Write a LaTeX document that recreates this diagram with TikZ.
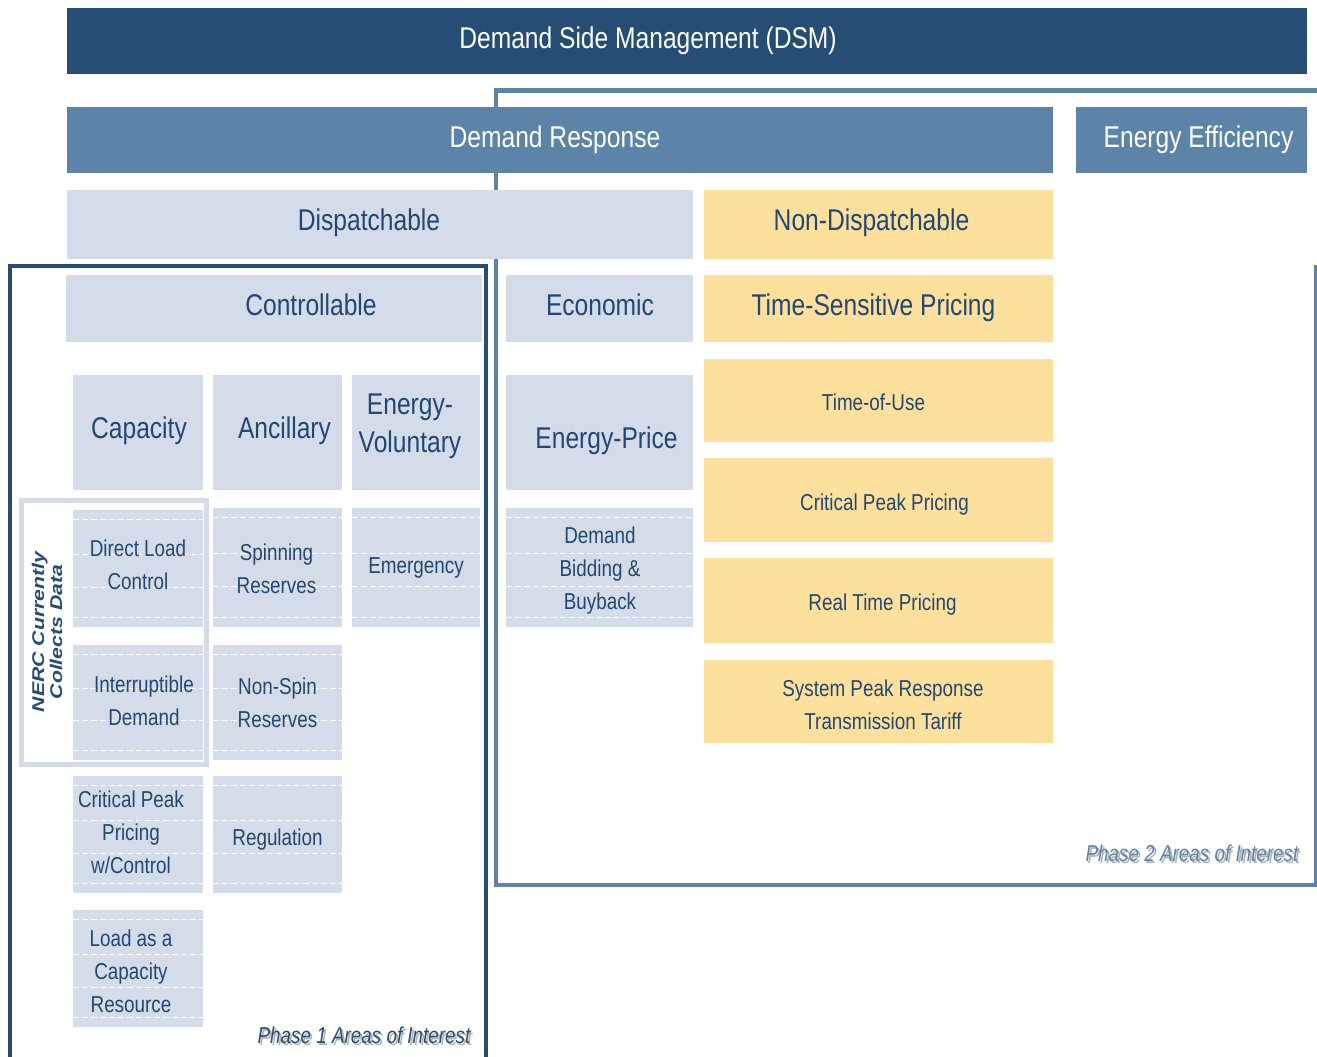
\documentclass[tikz,border=0pt]{standalone}
\usepackage{fontspec}
\setmainfont{Liberation Sans}[FakeStretch=0.82]
\newfontfamily\nercfont{Liberation Sans}[FakeStretch=1.25]
\usepackage{xcolor}
\usetikzlibrary{calc}

\definecolor{dsmblue}{RGB}{38,77,115}
\definecolor{midblue}{RGB}{92,132,168}
\definecolor{paleblue}{RGB}{211,220,232}
\definecolor{paleyellow}{RGB}{252,224,155}
\definecolor{textblue}{RGB}{33,72,116}

\begin{document}
\begin{tikzpicture}[x=1pt, y=-1pt,
    box/.style={inner sep=0pt, outer sep=0pt},
    sz/.style 2 args={minimum width=#1pt, minimum height=#2pt},
    darkbar/.style={box, fill=dsmblue},
    midbar/.style={box, fill=midblue},
    bluebox/.style={box, fill=paleblue},
    yellowbox/.style={box, fill=paleyellow},
    dashlines/.style={path picture={
        \foreach \f in {0.08,0.38,0.66,0.92}
            \draw[white, line width=1pt, dash pattern=on 6pt off 3pt]
                ($(path picture bounding box.north west)!\f!(path picture bounding box.south west)$) --
                ($(path picture bounding box.north east)!\f!(path picture bounding box.south east)$);
    }},
    subbox/.style={bluebox, dashlines},
    lbl/.style={align=center, text=textblue, font=\fontsize{30}{38}\selectfont},
    whitelbl/.style={lbl, text=white},
    small/.style={lbl, font=\fontsize{23}{33}\selectfont},
    frame/.style={line width=4.5pt},
    phase/.style={font=\fontsize{23}{23}\selectfont\itshape}
]
    \useasboundingbox (0,0) rectangle (1317,1057);

    % Phase frames
    \draw[frame, midblue] (1316,265) -- (1316,885) -- (496,885) -- (496,90.5) -- (1320,90.5);
    \draw[frame, dsmblue] (10,1062) -- (10,266) -- (486,266) -- (486,1062);

    % Top bars
    \node[darkbar, sz={1240}{66}] (dsm) at (687,41) {};
    \node[midbar, sz={986}{66}] (dr) at (560,140) {};
    \node[midbar, sz={231}{66}] (ee) at (1191.5,140) {};
    \node[whitelbl] (dsmtxt) at (648,41) {Demand Side Management (DSM)};
    \node[whitelbl] (drtxt) at (555,140) {Demand Response};
    \node[whitelbl] (eetxt) at (1198.5,140) {Energy Efficiency};

    % Second and third rows
    \node[bluebox, sz={626}{69}] (disp) at (380,224.5) {};
    \node[yellowbox, sz={349}{69}] (nondisp) at (878.5,224.5) {};
    \node[bluebox, sz={416}{67}] (ctrl) at (274,308.5) {};
    \node[bluebox, sz={187}{67}] (econ) at (599.5,308.5) {};
    \node[yellowbox, sz={349}{67}] (tsp) at (878.5,308.5) {};
    \node[lbl] (disptxt) at (369,222.5) {Dispatchable};
    \node[lbl] (nondisptxt) at (871.5,222.5) {Non-Dispatchable};
    \node[lbl] (ctrltxt) at (311,304.5) {Controllable};
    \node[lbl] (econtxt) at (600,304.5) {Economic};
    \node[lbl] (tsptxt) at (873.5,307.5) {Time-Sensitive Pricing};

    % Categories
    \node[bluebox, sz={130}{115}] (capacity) at (138,432.5) {};
    \node[bluebox, sz={129}{115}] (ancillary) at (277.5,432.5) {};
    \node[bluebox, sz={128}{115}] (energyvol) at (416,432.5) {};
    \node[bluebox, sz={187}{115}] (energyprice) at (599.5,432.5) {};
    \node[lbl] (capacitytxt) at (139,430.5) {Capacity};
    \node[lbl] (ancillarytxt) at (284.5,430.5) {Ancillary};
    \node[lbl] (energyvoltxt) at (410,426.5) {Energy-\\Voluntary};
    \node[lbl] (energypricetxt) at (606.5,440.5) {Energy-Price};

    % Pricing programs
    \node[yellowbox, sz={349}{83}] (tou) at (878.5,400.5) {};
    \node[yellowbox, sz={349}{84}] (cpp) at (878.5,500) {};
    \node[yellowbox, sz={349}{85}] (rtp) at (878.5,600.5) {};
    \node[yellowbox, sz={349}{83}] (sprtt) at (878.5,701.5) {};
    \node[small] (toutxt) at (873.5,402.5) {Time-of-Use};
    \node[small] (cpptxt) at (884.5,505) {Critical Peak Pricing};
    \node[small] (rtptxt) at (882.5,604.5) {Real Time Pricing};
    \node[small] (sprtttxt) at (883,704.5) {System Peak Response\\Transmission Tariff};

    % NERC frame
    \draw[line width=5pt, paleblue] (21.5,500.5) rectangle (206.5,764.5);
    \node[rotate=90, align=center, text=dsmblue, font=\nercfont\bfseries\itshape\fontsize{17}{18}\selectfont] (nerc) at (47,632) {NERC Currently\\Collects Data};

    % Programs
    \node[subbox, sz={130}{117}] (dlc) at (138,568.5) {};
    \node[subbox, sz={130}{115}] (intd) at (138,702.5) {};
    \node[subbox, sz={130}{117}] (cppc) at (138,834.5) {};
    \node[subbox, sz={130}{117}] (lacr) at (138,968.5) {};
    \node[subbox, sz={129}{119}] (spin) at (277.5,567.5) {};
    \node[subbox, sz={129}{115}] (nonspin) at (277.5,702.5) {};
    \node[subbox, sz={129}{117}] (regul) at (277.5,834.5) {};
    \node[subbox, sz={128}{119}] (emerg) at (416,567.5) {};
    \node[subbox, sz={187}{119}] (dbb) at (599.5,567.5) {};
    \node[small] (dlctxt) at (138,564.5) {Direct Load\\Control};
    \node[small] (intdtxt) at (144,700.5) {Interruptible\\Demand};
    \node[small] (cppctxt) at (131,832.5) {Critical Peak\\Pricing\\w/Control};
    \node[small] (lacrtxt) at (131,971.5) {Load as a\\Capacity\\Resource};
    \node[small] (spintxt) at (276.5,568.5) {Spinning\\Reserves};
    \node[small] (nonspintxt) at (277.5,702.5) {Non-Spin\\Reserves};
    \node[small] (regultxt) at (277.5,839.5) {Regulation};
    \node[small] (emergtxt) at (416,567.5) {Emergency};
    \node[small] (dbbtxt) at (600,570.5) {Demand\\Bidding \&\\Buyback};

    % Phase labels
    \node[phase, text=gray!60] at (366,1037) {Phase 1 Areas of Interest};
    \node[phase, text=dsmblue] (phase1) at (364,1035) {Phase 1 Areas of Interest};
    \node[phase, text=gray!60] at (1194,855) {Phase 2 Areas of Interest};
    \node[phase, text=midblue] (phase2) at (1192,853) {Phase 2 Areas of Interest};
\end{tikzpicture}
\end{document}
